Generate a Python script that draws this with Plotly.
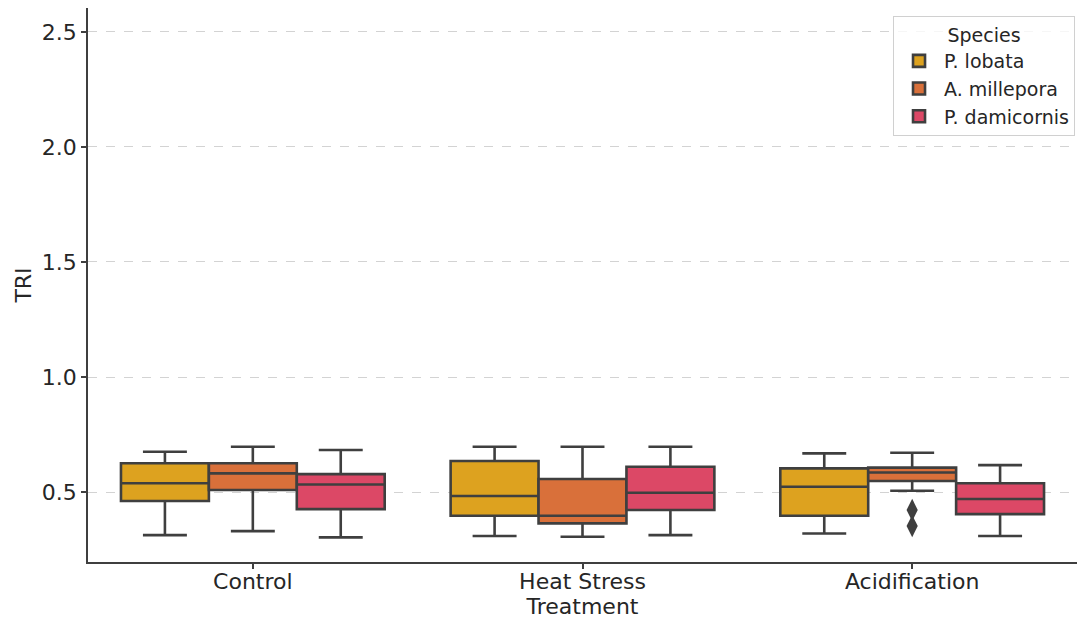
import plotly.graph_objects as go

# Treatment groups and species
treatments = ["Control", "Heat Stress", "Acidification"]
species = ["P. lobata", "A. millepora", "P. damicornis"]
colors = ["#DDA21F", "#D9703A", "#DC4866"]

# Box statistics per species, one entry per treatment
lower = {
    "P. lobata":     [0.313, 0.309, 0.320],
    "A. millepora":  [0.330, 0.306, 0.506],
    "P. damicornis": [0.303, 0.313, 0.309],
}
q1 = {
    "P. lobata":     [0.461, 0.397, 0.397],
    "A. millepora":  [0.509, 0.364, 0.548],
    "P. damicornis": [0.426, 0.422, 0.404],
}
median = {
    "P. lobata":     [0.538, 0.483, 0.523],
    "A. millepora":  [0.581, 0.397, 0.585],
    "P. damicornis": [0.533, 0.497, 0.470],
}
q3 = {
    "P. lobata":     [0.625, 0.635, 0.603],
    "A. millepora":  [0.625, 0.557, 0.606],
    "P. damicornis": [0.578, 0.610, 0.538],
}
upper = {
    "P. lobata":     [0.675, 0.697, 0.668],
    "A. millepora":  [0.697, 0.697, 0.671],
    "P. damicornis": [0.683, 0.697, 0.617],
}

# Outlying observations (A. millepora, Acidification)
outlier_x = ["Acidification", "Acidification"]
outlier_y = [0.422, 0.352]

LINE = "#3f3f3f"
FONT = "DejaVu Sans"
TXT = "#262626"

fig = go.Figure()
for sp, col in zip(species, colors):
    fig.add_trace(go.Box(
        name=sp,
        x=treatments,
        q1=q1[sp], median=median[sp], q3=q3[sp],
        lowerfence=lower[sp], upperfence=upper[sp],
        fillcolor=col,
        line=dict(color=LINE, width=2.6),
        whiskerwidth=0.5,
        boxpoints=False,
    ))

fig.add_trace(go.Scatter(
    x=outlier_x, y=outlier_y, mode="markers",
    marker=dict(symbol="diamond-tall", size=16, color=LINE),
    showlegend=False, hoverinfo="skip",
))

fig.update_layout(
    width=1077, height=624,
    margin=dict(l=88, r=0, t=8, b=62),
    paper_bgcolor="white", plot_bgcolor="white",
    boxmode="group", boxgap=0.2, boxgroupgap=0,
    font=dict(family=FONT, size=22, color=TXT),
    legend=dict(
        title=dict(text="Species", font=dict(size=19, color=TXT), side="top center"),
        font=dict(size=19, color=TXT),
        x=0.998, y=0.985, xanchor="right", yanchor="top",
        bordercolor="#d0d0d0", borderwidth=1, bgcolor="rgba(255,255,255,0.8)",
        tracegroupgap=0, itemwidth=40,
    ),
    showlegend=True,
)

fig.update_xaxes(
    title=dict(text="Treatment", font=dict(size=22, color=TXT), standoff=4),
    tickfont=dict(size=22, color=TXT),
    ticklabelstandoff=-6,
    categoryorder="array", categoryarray=treatments,
    range=[-0.5, 2.5],
    showline=True, linecolor=LINE, linewidth=1.5,
    ticks="outside", ticklen=5, tickcolor=LINE, tickwidth=1.5,
    showgrid=False, zeroline=False,
)
fig.update_yaxes(
    title=dict(text="TRI", font=dict(size=22, color=TXT), standoff=4),
    tickfont=dict(size=22, color=TXT),
    range=[0.196, 2.604],
    tickvals=[0.5, 1.0, 1.5, 2.0, 2.5], tickformat=".1f",
    showline=True, linecolor=LINE, linewidth=1.5,
    ticks="outside", ticklen=5, tickcolor=LINE, tickwidth=1.5,
    showgrid=True, gridcolor="#d3d3d3", griddash="dash", gridwidth=1,
    zeroline=False,
)

fig.write_html("out.html")
